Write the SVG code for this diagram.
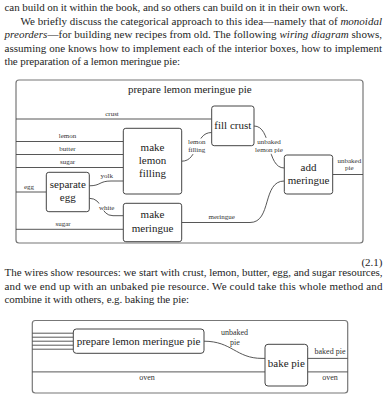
<svg xmlns="http://www.w3.org/2000/svg" width="384" height="400" viewBox="0 0 384 400">
<style>
.p{font-family:"Liberation Serif","Times New Roman",serif;font-size:11px;fill:#1e1e1e}
.it{font-style:italic}
.b{font-family:"Liberation Serif","Times New Roman",serif;font-size:11px;fill:#222;text-anchor:middle}
.l{font-family:"Liberation Serif","Times New Roman",serif;font-size:7px;fill:#333;text-anchor:middle}
.l2{font-family:"Liberation Serif","Times New Roman",serif;font-size:8px;fill:#333;text-anchor:middle}
.box{fill:#fff;stroke:#444;stroke-width:1}
.outer{fill:#fff;stroke:#777;stroke-width:1.2}
.w{fill:none;stroke:#444;stroke-width:0.9}
.bg{fill:#fff}
</style>
<rect width="384" height="400" fill="#fff"/>

<g id="text-top">
<text class="p" x="4.5" y="11" textLength="343.5" lengthAdjust="spacing">can build on it within the book, and so others can build on it in their own work.</text>
<text class="p" x="20.5" y="25" textLength="361.5" lengthAdjust="spacing">We briefly discuss the categorical approach to this idea—namely that of <tspan class="it">monoidal</tspan></text>
<text class="p" x="4.5" y="38.4" textLength="377.5" lengthAdjust="spacing"><tspan class="it">preorders</tspan>—for building new recipes from old.  The following <tspan class="it">wiring diagram</tspan> shows,</text>
<text class="p" x="4.5" y="51.7" textLength="377.5" lengthAdjust="spacing">assuming one knows how to implement each of the interior boxes, how to implement</text>
<text class="p" x="4.5" y="65" textLength="175.5" lengthAdjust="spacing">the preparation of a lemon meringue pie:</text>
</g>

<g id="diagram1-frame">
<rect class="outer" x="16" y="80" width="347" height="163" rx="3"/>
<text class="b" x="189.8" y="93">prepare lemon meringue pie</text>
</g>

<g id="connectors1">
<path class="w" d="M16 119 H211.7"/>
<path class="w" d="M16 141.5 H123.3"/>
<path class="w" d="M16 154.5 H123.3"/>
<path class="w" d="M16 167.5 H123.3"/>
<path class="w" d="M16 192 H46.3"/>
<path class="w" d="M89.3 185.8 C101 185.8 99 181 111 181 H123.3"/>
<path class="w" d="M89.3 198.3 C103 198.3 100 215.7 113 215.7 H123.3"/>
<path class="w" d="M16 229.3 H123.3"/>
<path class="w" d="M181.7 161.2 C199 161.2 194 132.5 211.7 132.5"/>
<path class="w" d="M254 126 C272 126 266 168 284.3 168"/>
<path class="w" d="M181.7 222.5 H250 C272 222.5 262 181 284.3 181"/>
<path class="w" d="M332.7 174.5 H363"/>
<rect class="bg" x="98.5" y="203.5" width="16.5" height="7"/>
<rect class="bg" x="189" y="138.5" width="15.5" height="15.5"/>
<rect class="bg" x="255" y="137.8" width="28.5" height="16"/>
<text class="l" x="112" y="116">crust</text>
<text class="l" x="67.5" y="138.3">lemon</text>
<text class="l" x="67.5" y="151.3">butter</text>
<text class="l" x="67.5" y="164">sugar</text>
<text class="l" x="29" y="189">egg</text>
<text class="l" x="106.7" y="177.5">yolk</text>
<text class="l" x="106.7" y="209.5">white</text>
<text class="l" x="63" y="226">sugar</text>
<text class="l" x="196.7" y="144.2">lemon</text>
<text class="l" x="196.7" y="152">filling</text>
<text class="l" x="269" y="143.5">unbaked</text>
<text class="l" x="269" y="152">lemon pie</text>
<text class="l" x="221.7" y="219">meringue</text>
<text class="l" x="349.3" y="162.5">unbaked</text>
<text class="l" x="349.3" y="170">pie</text>
</g>

<g id="make-lemon-filling">
<rect class="box" x="123.3" y="128.3" width="58.4" height="65.7" rx="2.5"/>
<text class="b" x="152.5" y="150.5">make</text>
<text class="b" x="152.5" y="163.8">lemon</text>
<text class="b" x="152.5" y="177.1">filling</text>
</g>
<g id="separate-egg">
<rect class="box" x="46.3" y="172.3" width="43" height="39.4" rx="2.5"/>
<text class="b" x="67.8" y="187.5">separate</text>
<text class="b" x="67.8" y="200.8">egg</text>
</g>
<g id="make-meringue">
<rect class="box" x="123.3" y="203.3" width="58.4" height="38.4" rx="2.5"/>
<text class="b" x="152.5" y="218.3">make</text>
<text class="b" x="152.5" y="231.6">meringue</text>
</g>
<g id="fill-crust">
<rect class="box" x="211.7" y="106" width="42.3" height="39.7" rx="2.5"/>
<text class="b" x="232.8" y="128.8">fill crust</text>
</g>
<g id="add-meringue">
<rect class="box" x="284.3" y="155" width="48.4" height="39" rx="2.5"/>
<text class="b" x="308.5" y="170.5">add</text>
<text class="b" x="308.5" y="183.8">meringue</text>
</g>

<g id="text-mid">
<text class="p" x="382.5" y="265.5" text-anchor="end">(2.1)</text>
<text class="p" x="4.5" y="276.4" textLength="378" lengthAdjust="spacing">The wires show resources:  we start with crust, lemon, butter, egg, and sugar resources,</text>
<text class="p" x="4.5" y="289.6" textLength="378" lengthAdjust="spacing">and we end up with an unbaked pie resource.  We could take this whole method and</text>
<text class="p" x="4.5" y="302.8" textLength="184.5" lengthAdjust="spacing">combine it with others, e.g. baking the pie:</text>
</g>

<g id="diagram2-frame">
<rect class="outer" x="32.3" y="320.5" width="315.4" height="72.5" rx="3"/>
</g>

<g id="connectors2">
<path class="w" d="M32.3 333.2 H73.3 M32.3 337.2 H73.3 M32.3 341.2 H73.3 M32.3 345.2 H73.3 M32.3 349.2 H73.3"/>
<path class="w" d="M204 341.2 C232 341.2 236 358.4 262 358.4 H265"/>
<path class="w" d="M32.3 371.9 H265"/>
<path class="w" d="M307.7 358.4 H347.7"/>
<path class="w" d="M307.7 371.9 H347.7"/>
<text class="l2" x="234.5" y="335">unbaked</text>
<text class="l2" x="235" y="344.5">pie</text>
<text class="l2" x="330" y="353.8">baked pie</text>
<text class="l2" x="330" y="379.5">oven</text>
<text class="l2" x="147" y="379.5">oven</text>
</g>

<g id="prepare-lemon-meringue-pie">
<rect class="box" x="73.3" y="329" width="130.7" height="24.3" rx="3"/>
<text class="b" x="138.5" y="344.8">prepare lemon meringue pie</text>
</g>
<g id="bake-pie">
<rect class="box" x="265" y="344.3" width="42.7" height="41.7" rx="3"/>
<text class="b" x="286.3" y="367.2">bake pie</text>
</g>
</svg>
